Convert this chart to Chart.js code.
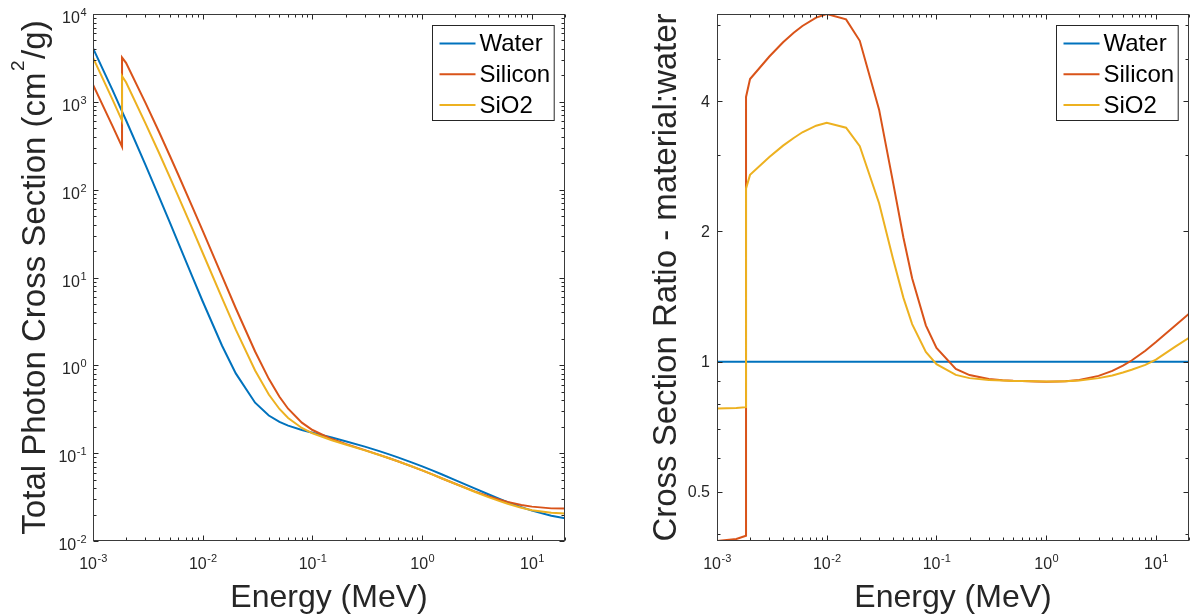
<!DOCTYPE html>
<html>
<head>
<meta charset="utf-8">
<title>Photon cross sections</title>
<script src="https://cdn.jsdelivr.net/npm/chart.js@4.4.1/dist/chart.umd.min.js"></script>
<style>
  html, body { margin: 0; padding: 0; background: #fff; }
  #wrap { position: relative; width: 1190px; height: 616px; }
  #wrap canvas { position: absolute; top: 0; }
  #csChart { left: 0; }
  #ratioChart { left: 595px; }
</style>
</head>
<body>
<div id="wrap">
  <canvas id="csChart" width="595" height="616"></canvas>
  <canvas id="ratioChart" width="595" height="616"></canvas>
</div>
<script>
// Photon energy grid (MeV), silicon K edge listed twice
const energy = [0.001, 0.0015, 0.0018389, 0.0018389, 0.002, 0.003, 0.004, 0.005, 0.006, 0.008,
  0.01, 0.015, 0.02, 0.03, 0.04, 0.05, 0.06, 0.08, 0.1, 0.15, 0.2, 0.3, 0.4, 0.5, 0.6, 0.8,
  1, 1.25, 1.5, 2, 3, 4, 5, 6, 8, 10, 15, 20];

// Total photon cross section (cm^2/g)
const water = [4078, 1376, 780, 780, 617.3, 192.9, 82.78, 42.58, 24.64, 10.37,
  5.329, 1.673, 0.8096, 0.3756, 0.2683, 0.2269, 0.2059, 0.1837, 0.1707, 0.1505, 0.137, 0.1186, 0.1061, 0.09687, 0.08956, 0.07865,
  0.07072, 0.06323, 0.05754, 0.04942, 0.03969, 0.03403, 0.03031, 0.0277, 0.02429, 0.02219, 0.01941, 0.01813];
const silicon = [1570, 535.5, 309.2, 3192, 2777, 978.4, 452.9, 245, 147, 64.68,
  33.89, 10.34, 4.464, 1.436, 0.7012, 0.4385, 0.3207, 0.2228, 0.1835, 0.1448, 0.1275, 0.1082, 0.09614, 0.08748, 0.08077, 0.07082,
  0.06361, 0.05688, 0.05183, 0.0448, 0.03678, 0.0324, 0.02967, 0.02788, 0.02574, 0.02462, 0.02352, 0.02338];
const sio2 = [3178, 1075, 612, 1960, 1668, 573, 261.3, 140, 83.5, 36.4,
  19.01, 5.81, 2.547, 0.8725, 0.4655, 0.3185, 0.2515, 0.1935, 0.1684, 0.1402, 0.1255, 0.1076, 0.09588, 0.08738, 0.08074, 0.07085,
  0.06367, 0.05693, 0.05184, 0.04469, 0.03635, 0.03161, 0.0286, 0.02653, 0.02387, 0.02244, 0.02103, 0.02057];

// Cross section ratio, material : water
const ratioWater = [1, 1, 1, 1, 1, 1, 1, 1, 1, 1,
  1, 1, 1, 1, 1, 1, 1, 1, 1, 1, 1, 1, 1, 1, 1, 1,
  1, 1, 1, 1, 1, 1, 1, 1, 1, 1, 1, 1];
const ratioSilicon = [0.385, 0.389, 0.396, 4.09, 4.499, 5.072, 5.471, 5.754, 5.966, 6.237,
  6.36, 6.181, 5.514, 3.823, 2.613, 1.933, 1.558, 1.213, 1.075, 0.962, 0.931, 0.912, 0.906, 0.903, 0.902, 0.9,
  0.899, 0.9, 0.901, 0.907, 0.927, 0.952, 0.979, 1.006, 1.06, 1.11, 1.212, 1.29];
const ratioSio2 = [0.779, 0.781, 0.785, 2.513, 2.702, 2.97, 3.157, 3.288, 3.389, 3.51,
  3.567, 3.473, 3.146, 2.323, 1.735, 1.404, 1.221, 1.053, 0.987, 0.932, 0.916, 0.907, 0.904, 0.902, 0.902, 0.901,
  0.9, 0.9, 0.901, 0.904, 0.916, 0.929, 0.944, 0.958, 0.983, 1.011, 1.083, 1.135];

const seriesNames = ['Water', 'Silicon', 'SiO2'];
const seriesColors = ['#0072BD', '#D95319', '#EDB120'];

// tick labels
const xTickExps = [-3, -2, -1, 0, 1];
const csTickExps = [-2, -1, 0, 1, 2, 3, 4];
const ratioTicks = [0.5, 1, 2, 4];
const ratioMinorTicks = [0.4, 0.6, 0.7, 0.8, 0.9, 3, 5, 6];

const FONT = '"Liberation Sans", Arial, Helvetica, sans-serif';
const INK = '#262626';

function pts(ys) {
    return energy.map(function(e, i) { return { x: e, y: ys[i] }; });
}

function makeDatasets(lists) {
    return lists.map(function(ys, i) {
        return {
            label: seriesNames[i],
            data: pts(ys),
            borderColor: seriesColors[i],
            backgroundColor: seriesColors[i],
            borderWidth: 2,
            pointRadius: 0,
            showLine: true,
            tension: 0,
            order: 3 - i
        };
    });
}

function decadeMinors(exps, max) {
    const out = [];
    exps.forEach(function(k) {
        for (let m = 2; m <= 9; m++) {
            const v = m * Math.pow(10, k);
            if (v <= max) out.push(v);
        }
    });
    return out;
}

// "10" with a raised exponent
function drawPow(ctx, exp, x, y, align) {
    const base = '16px ' + FONT, sup = '11px ' + FONT;
    ctx.font = base;
    const wb = ctx.measureText('10').width;
    ctx.font = sup;
    const we = ctx.measureText(String(exp)).width;
    let x0 = x;
    if (align === 'center') x0 = x - (wb + we) / 2;
    if (align === 'right') x0 = x - (wb + we);
    ctx.textAlign = 'left';
    ctx.textBaseline = 'alphabetic';
    ctx.font = base;
    ctx.fillText('10', x0, y);
    ctx.font = sup;
    ctx.fillText(String(exp), x0 + wb + 0.5, y - 7);
}

// MATLAB-like box, inward ticks, labels, titles and legend
const matlabAxes = {
    id: 'matlabAxes',
    afterDatasetsDraw(chart, args, opts) {
        const ctx = chart.ctx;
        const a = chart.chartArea;
        const xs = chart.scales.x, ys = chart.scales.y;
        const L = Math.round(a.left) + 0.5, R = Math.round(a.right) - 0.5;
        const T = Math.round(a.top) + 0.5, B = Math.round(a.bottom) - 0.5;
        ctx.save();

        // ticks
        ctx.strokeStyle = INK;
        ctx.lineWidth = 1;
        ctx.beginPath();
        function xt(v, len) {
            const p = Math.round(xs.getPixelForValue(v)) + 0.5;
            ctx.moveTo(p, B); ctx.lineTo(p, B - len);
            ctx.moveTo(p, T); ctx.lineTo(p, T + len);
        }
        function yt(v, len) {
            const p = Math.round(ys.getPixelForValue(v)) + 0.5;
            ctx.moveTo(L, p); ctx.lineTo(L + len, p);
            ctx.moveTo(R, p); ctx.lineTo(R - len, p);
        }
        xTickExps.forEach(function(k) { xt(Math.pow(10, k), 5); });
        decadeMinors(xTickExps, xs.max).forEach(function(v) { xt(v, 3); });
        opts.yMajor.forEach(function(v) { yt(v, 5); });
        opts.yMinor.forEach(function(v) { if (v >= ys.min && v <= ys.max) yt(v, 3); });
        ctx.stroke();

        // box
        ctx.strokeStyle = '#3a3a3a';
        ctx.strokeRect(L, T, R - L, B - T);

        // tick labels
        ctx.fillStyle = INK;
        xTickExps.forEach(function(k) {
            drawPow(ctx, k, xs.getPixelForValue(Math.pow(10, k)), a.bottom + 28, 'center');
        });
        opts.yMajor.forEach(function(v, i) {
            const p = ys.getPixelForValue(v);
            if (opts.yExps) {
                drawPow(ctx, opts.yExps[i], a.left - 7, p + 9, 'right');
            } else {
                ctx.font = '16px ' + FONT;
                ctx.textAlign = 'right';
                ctx.textBaseline = 'middle';
                ctx.fillText(String(v), a.left - 7, p + 1);
            }
        });

        // x title
        ctx.font = '32px ' + FONT;
        ctx.textAlign = 'center';
        ctx.textBaseline = 'alphabetic';
        ctx.fillText('Energy (MeV)', (a.left + a.right) / 2, 607);

        // y title (optional superscript part)
        ctx.save();
        ctx.translate(opts.yTitleX, (a.top + a.bottom) / 2);
        ctx.rotate(-Math.PI / 2);
        const parts = opts.yTitle;
        const mainFont = '33px ' + FONT, supFont = '19px ' + FONT;
        let total = 0;
        parts.forEach(function(p) {
            ctx.font = p.sup ? supFont : mainFont;
            total += ctx.measureText(p.text).width + (p.sup ? 3 : 0);
        });
        let cx = -total / 2;
        ctx.textAlign = 'left';
        parts.forEach(function(p) {
            ctx.font = p.sup ? supFont : mainFont;
            ctx.fillText(p.text, cx + (p.sup ? 1.5 : 0), p.sup ? -21 : 0);
            cx += ctx.measureText(p.text).width + (p.sup ? 3 : 0);
        });
        ctx.restore();

        // legend box in the top right corner
        ctx.font = '24px ' + FONT;
        let tw = 0;
        chart.data.datasets.forEach(function(d) { tw = Math.max(tw, ctx.measureText(d.label).width); });
        const bw = 7 + 36 + 4 + tw + 4, bh = 95;
        const bx = Math.round(a.right - 11 - bw) + 0.5, by = Math.round(a.top + 11) + 0.5;
        ctx.fillStyle = '#fff';
        ctx.fillRect(bx, by, bw, bh);
        ctx.strokeStyle = INK;
        ctx.lineWidth = 1;
        ctx.strokeRect(bx, by, bw, bh);
        chart.data.datasets.forEach(function(d, i) {
            const ry = by + 18 + i * 30.7;
            ctx.strokeStyle = d.borderColor;
            ctx.lineWidth = 2;
            ctx.beginPath();
            ctx.moveTo(bx + 7, ry); ctx.lineTo(bx + 43, ry);
            ctx.stroke();
            ctx.fillStyle = '#000';
            ctx.textAlign = 'left';
            ctx.textBaseline = 'middle';
            ctx.fillText(d.label, bx + 47, ry + 1);
        });
        ctx.restore();
    }
};

function baseOptions(pad, yMin, yMax, axesOpts) {
    return {
        responsive: false,
        animation: false,
        events: [],
        layout: { padding: pad },
        plugins: {
            legend: { display: false },
            tooltip: { enabled: false },
            matlabAxes: axesOpts
        },
        scales: {
            x: { type: 'logarithmic', min: energy[0], max: energy[energy.length - 1], display: false },
            y: { type: 'logarithmic', min: yMin, max: yMax, display: false }
        }
    };
}

new Chart(document.getElementById('csChart'), {
    type: 'scatter',
    data: { datasets: makeDatasets([water, silicon, sio2]) },
    options: baseOptions({ left: 93, right: 30, top: 14, bottom: 75 },
        Math.pow(10, csTickExps[0]), Math.pow(10, csTickExps[csTickExps.length - 1]), {
            yMajor: csTickExps.map(function(k) { return Math.pow(10, k); }),
            yExps: csTickExps,
            yMinor: decadeMinors(csTickExps.slice(0, -1), 1e4),
            yTitleX: 45,
            yTitle: [{ text: 'Total Photon Cross Section (cm' }, { text: '2', sup: true }, { text: '/g)' }]
        }),
    plugins: [matlabAxes]
});

new Chart(document.getElementById('ratioChart'), {
    type: 'scatter',
    data: { datasets: makeDatasets([ratioWater, ratioSilicon, ratioSio2]) },
    options: baseOptions({ left: 122, right: 1, top: 14, bottom: 75 },
        Math.min.apply(null, ratioSilicon), Math.max.apply(null, ratioSilicon), {
            yMajor: ratioTicks,
            yMinor: ratioMinorTicks,
            yTitleX: 81,
            yTitle: [{ text: 'Cross Section Ratio - material:water' }]
        }),
    plugins: [matlabAxes]
});
</script>
</body>
</html>
